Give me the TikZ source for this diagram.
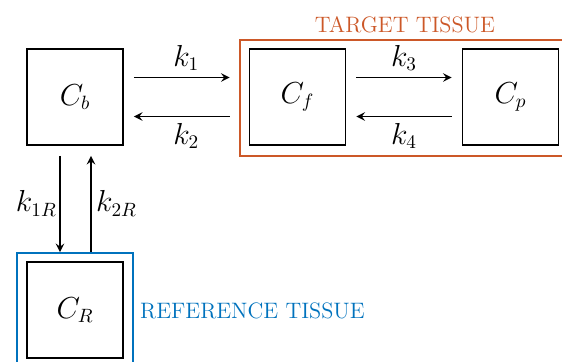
\documentclass[tikz,border=0pt]{standalone}
\usepackage{amsmath}
\usetikzlibrary{positioning}

\definecolor{targetcol}{RGB}{204,88,40}
\definecolor{refcol}{RGB}{0,114,189}

\begin{document}
\begin{tikzpicture}[x=0.02cm, y=-0.02cm,
    comp/.style={draw, line width=1.1pt, minimum size=1.92cm, font=\fontsize{16}{19}\selectfont},
    rate/.style={->, line width=1.1pt, >=stealth},
    lab/.style={font=\fontsize{16}{19}\selectfont},
    tissue/.style={font=\fontsize{12.7}{15}\selectfont}]
    \useasboundingbox (0,0) rectangle (562,362);
    \clip (0,0) rectangle (562,362);

    % Compartments
    \node[comp] (Cb) at (75,97) {$C_b$};
    \node[comp] (Cf) at (297.5,97) {$C_f$};
    \node[comp] (Cp) at (510.5,97) {$C_p$};
    \node[comp] (CR) at (75,310) {$C_R$};

    % Tissue boxes
    \draw[targetcol, line width=1.1pt] (240,40) rectangle (580,156);
    \node[targetcol, tissue] (target) at (405,25) {TARGET TISSUE};
    \draw[refcol, line width=1.1pt] (17,253) rectangle (133,380);
    \node[refcol, tissue, anchor=west] (reference) at (134,311) {REFERENCE TISSUE};

    % Exchange between plasma and free compartment
    \draw[rate, shorten <=0.2cm, shorten >=0.38cm] ([yshift=0.39cm]Cb.east) -- node[above, lab] {$k_1$} ([yshift=0.39cm]Cf.west);
    \draw[rate, shorten >=0.2cm, shorten <=0.38cm] ([yshift=-0.39cm]Cf.west) -- node[below, lab] {$k_2$} ([yshift=-0.39cm]Cb.east);

    % Exchange between free and bound compartment
    \draw[rate, shorten <=0.2cm, shorten >=0.2cm] ([yshift=0.39cm]Cf.east) -- node[above, lab] {$k_3$} ([yshift=0.39cm]Cp.west);
    \draw[rate, shorten <=0.2cm, shorten >=0.2cm] ([yshift=-0.39cm]Cp.west) -- node[below, lab] {$k_4$} ([yshift=-0.39cm]Cf.east);

    % Reference region
    \draw[rate, shorten <=0.2cm, shorten >=0.18cm] ([xshift=-0.3cm]Cb.south) -- node[left, lab, xshift=2pt] {$k_{1R}$} ([xshift=-0.3cm]CR.north);
    \draw[rate, shorten <=0.18cm, shorten >=0.2cm] ([xshift=0.32cm]CR.north) -- node[right, lab, xshift=-1pt] {$k_{2R}$} ([xshift=0.32cm]Cb.south);
\end{tikzpicture}
\end{document}
